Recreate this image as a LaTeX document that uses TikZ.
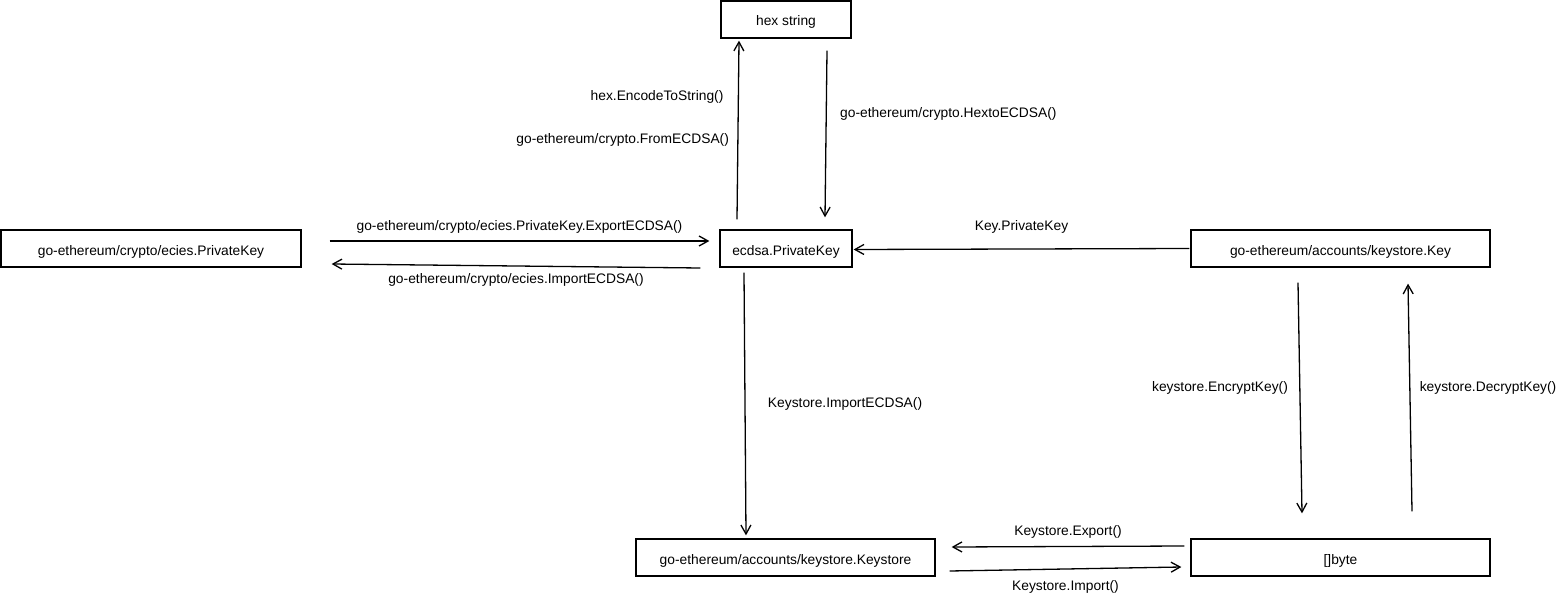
\documentclass[tikz,border=0pt]{standalone}
\usepackage{fontspec}
\setmainfont{Liberation Sans}
\usetikzlibrary{arrows.meta}

\begin{document}
\begin{tikzpicture}[x=1pt,y=-1pt,
	every node/.style={font=\fontsize{13.8}{16}\selectfont},
	box/.style={draw,line width=1.3pt,minimum height=37pt,inner sep=0pt,text height=13pt,text depth=0pt},
	arr/.style={line width=1.3pt,-{Straight Barb[length=9pt,width=10pt]}}]
\useasboundingbox (0,0) rectangle (1566,604);

\node[box,minimum width=130pt] (hex) at (786,19.5) {hex string};
\node[box,minimum width=132pt] (ecdsa) at (786,248.5) {ecdsa.PrivateKey};
\node[box,minimum width=300pt] (ecies) at (151,248.5) {go-ethereum/crypto/ecies.PrivateKey};
\node[box,minimum width=299pt] (key) at (1340.5,248.5) {go-ethereum/accounts/keystore.Key};
\node[box,minimum width=299pt] (keystore) at (785.5,557.5) {go-ethereum/accounts/keystore.Keystore};
\node[box,minimum width=299pt] (bytes) at (1340.5,557.5) {[]byte};

\path[arr]
([xshift=-49pt,yshift=10pt]ecdsa.north) edge node [pos=0.683,left=11pt] {hex.EncodeToString()}
	node [pos=0.444,left=5pt] {go-ethereum/crypto.FromECDSA()} ([xshift=-47pt,yshift=-2pt]hex.south)
([xshift=41pt,yshift=-12pt]hex.south) edge node [pos=0.38,right=10pt] {go-ethereum/crypto.HextoECDSA()} ([xshift=39pt,yshift=12pt]ecdsa.north)
([xshift=28pt,yshift=7.5pt]ecies.east) edge node [above=4pt] {go-ethereum/crypto/ecies.PrivateKey.ExportECDSA()} ([xshift=-10pt,yshift=7.5pt]ecdsa.west)
([xshift=-19pt,yshift=-19.5pt]ecdsa.west) edge node [below=4pt] {go-ethereum/crypto/ecies.ImportECDSA()} ([xshift=30pt,yshift=-15.5pt]ecies.east)
([xshift=-1pt]key.west) edge node [above=12pt] {Key.PrivateKey} ([xshift=1pt,yshift=-1pt]ecdsa.east)
([xshift=-42pt,yshift=-5pt]ecdsa.south) edge node [pos=0.5,right=19pt] {Keystore.ImportECDSA()} ([xshift=-39.5pt,yshift=3pt]keystore.north)
([xshift=-42.5pt,yshift=-15pt]key.south) edge node [pos=0.457,left=8pt] {keystore.EncryptKey()} ([xshift=-38.5pt,yshift=25pt]bytes.north)
([xshift=71.5pt,yshift=27pt]bytes.north) edge node [pos=0.54,right=6pt] {keystore.DecryptKey()} ([xshift=67.5pt,yshift=-16pt]key.south)
([xshift=-6pt,yshift=11.5pt]bytes.west) edge node [above=4pt] {Keystore.Export()} ([xshift=16pt,yshift=10.5pt]keystore.east)
([xshift=14pt,yshift=-13.5pt]keystore.east) edge node [below=8pt] {Keystore.Import()} ([xshift=-9pt,yshift=-9.5pt]bytes.west);
\end{tikzpicture}
\end{document}
